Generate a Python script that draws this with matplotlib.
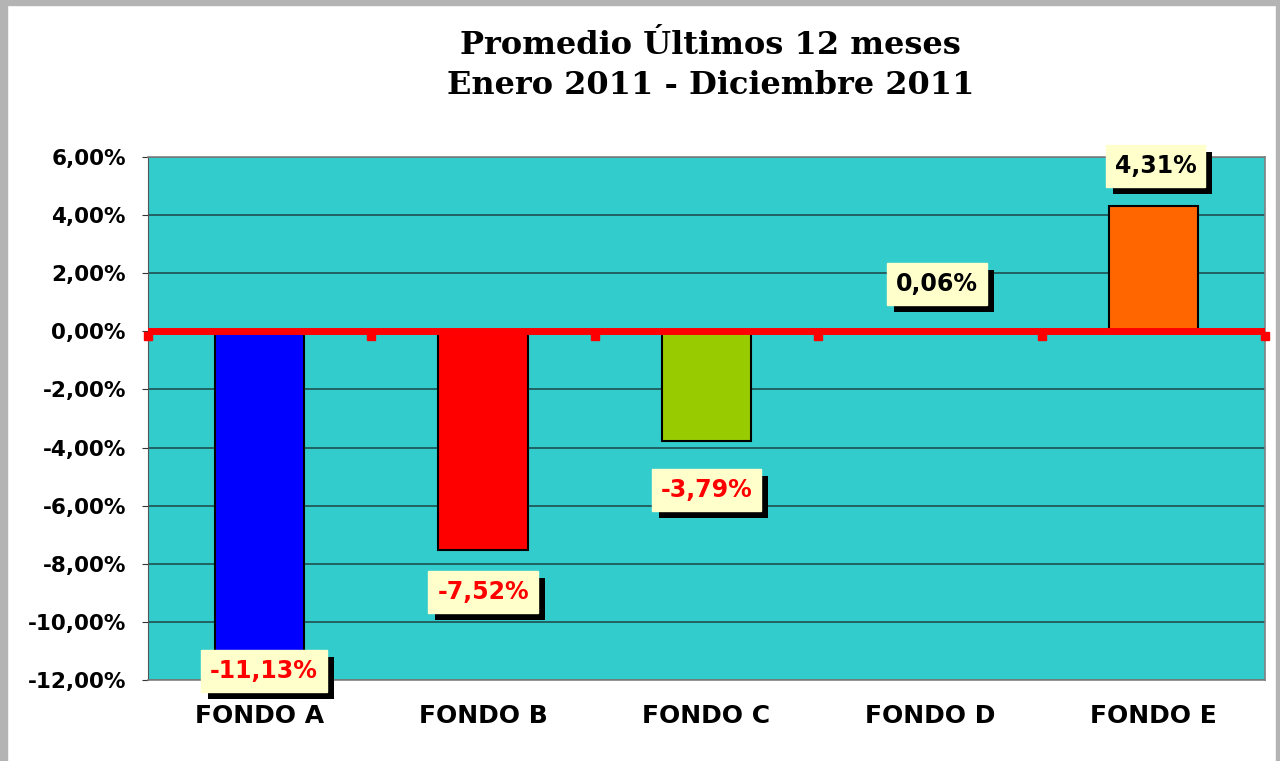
import matplotlib
matplotlib.use("Agg")
import matplotlib.pyplot as plt
from matplotlib.patches import Rectangle
import matplotlib.patheffects as pe

categories = ["FONDO A", "FONDO B", "FONDO C", "FONDO D", "FONDO E"]
values = [-11.13, -7.52, -3.79, 0.06, 4.31]
bar_colors = ["#0000FF", "#FF0000", "#99CC00", "#33CCCC", "#FF6600"]
label_texts = ["-11,13%", "-7,52%", "-3,79%", "0,06%", "4,31%"]
label_colors = ["#FF0000", "#FF0000", "#FF0000", "#000000", "#000000"]
label_dx = [0.02, 0.0, 0.0, 0.03, 0.01]
label_y = [-11.7, -8.97, -5.45, 1.62, 5.68]
yticks = [-12, -10, -8, -6, -4, -2, 0, 2, 4, 6]
ytick_labels = ["-12,00%", "-10,00%", "-8,00%", "-6,00%", "-4,00%", "-2,00%",
                "0,00%", "2,00%", "4,00%", "6,00%"]

fig = plt.figure(figsize=(12.8, 7.61), dpi=100)
fig.patch.set_facecolor("white")
# gray frame
fig.add_artist(Rectangle((0, 0), 7/1280, 1, transform=fig.transFigure, color="#b4b4b4", zorder=0))
fig.add_artist(Rectangle((0, 1 - 5/761), 1, 5/761, transform=fig.transFigure, color="#b4b4b4", zorder=0))
fig.add_artist(Rectangle((1276/1280, 0), 4/1280, 1, transform=fig.transFigure, color="#b4b4b4", zorder=0))

ax = fig.add_axes([148/1280, 1 - 680/761, (1265 - 148)/1280, (680 - 157)/761])
ax.set_facecolor("#33CCCC")
x = list(range(len(categories)))
ax.bar(x, values, width=0.4, color=bar_colors, edgecolor="black", linewidth=1.5, zorder=3)
ax.set_xlim(-0.5, len(categories) - 0.5)
ax.set_ylim(-12, 6)
ax.set_yticks(yticks)
ax.set_yticklabels(ytick_labels, fontsize=15.5, fontweight="bold", family="DejaVu Sans")
ax.set_xticks(x)
ax.set_xticklabels(categories, fontsize=18, fontweight="bold", family="DejaVu Sans")
ax.tick_params(axis="x", length=0, pad=17)
ax.tick_params(axis="y", length=4, pad=12, color="#333333")
ax.grid(axis="y", color="#1f5050", linewidth=1.2, zorder=1)
ax.set_axisbelow(True)
for s in ["top", "right", "bottom"]:
    ax.spines[s].set_color("#808080")
    ax.spines[s].set_linewidth(1.2)
ax.spines["left"].set_color("#555555")

# zero line with category-boundary ticks
ax.axhline(0, color="#FF0000", linewidth=5, zorder=4)
for b in [i - 0.5 for i in range(len(categories) + 1)]:
    ax.plot([b], [-0.15], marker="s", color="#FF0000", markersize=6, zorder=4, clip_on=False)

for i, (dx, ly, t, c) in enumerate(zip(label_dx, label_y, label_texts, label_colors)):
    txt = ax.annotate(t, (i + dx, ly), ha="center", va="center", fontsize=17, fontweight="bold",
                      color=c, zorder=6,
                      bbox=dict(boxstyle="square,pad=0.38", fc="#FFFFCC", ec="#FFFFCC"))
    txt.get_bbox_patch().set_path_effects([
        pe.SimplePatchShadow(offset=(5, -5), shadow_rgbFace="black", alpha=1.0),
        pe.Normal()])

fig.text(0.555, 1 - 45/761, "Promedio Últimos 12 meses", ha="center", va="center",
         fontsize=23, fontweight="bold", family="DejaVu Serif")
fig.text(0.555, 1 - 86/761, "Enero 2011 - Diciembre 2011", ha="center", va="center",
         fontsize=23, fontweight="bold", family="DejaVu Serif")

fig.savefig("out.png", dpi=100)
